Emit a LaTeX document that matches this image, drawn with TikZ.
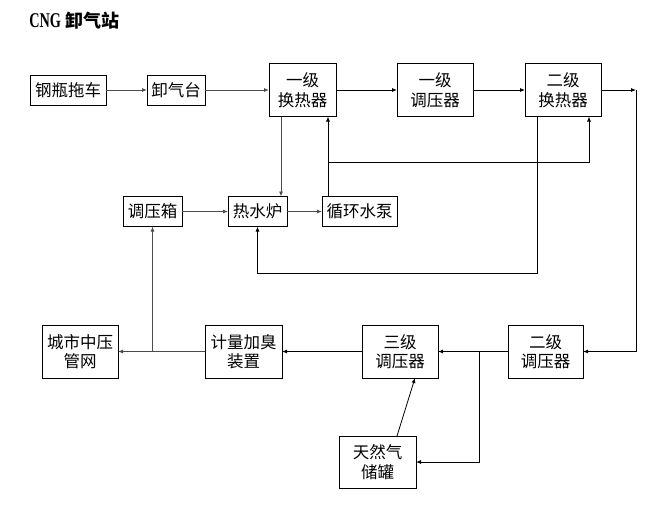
\documentclass[tikz,border=0pt]{standalone}
\usepackage{fontspec}
\setmainfont{Noto Sans CJK SC}
\newfontfamily\titlelat[BoldFont={Liberation Serif Bold}]{Liberation Serif}
\usetikzlibrary{positioning,arrows.meta}

\begin{document}
\begin{tikzpicture}[x=1pt,y=-1pt,node distance=40pt,outer sep=0pt,
  boxA/.style={
    draw=black,
    line width=0.8pt,
    inner sep=1pt,
    align=center,
    font={\fontsize{16.5}{19.5}\selectfont},
    minimum width=76pt,
    minimum height=53pt,
%    text height=12pt,
    },
  boxB/.style={boxA,minimum height=30pt},
  pipe/.style={draw=black,line width=0.8pt,-{Latex[length=5pt,width=4pt]}},
  pipeG/.style={pipe,draw=black!70},
  ]
  \useasboundingbox (0,0) rectangle (672,515);

  \node[anchor=west, font={\bfseries\fontsize{18}{20}\selectfont}] (title) at (26,21) {{\titlelat\bfseries\fontsize{21}{22}\selectfont\scalebox{0.68}[1]{CNG}} 卸气站};

  % top row
  \node[boxB] (tuoche) at (68,90) {钢瓶拖车};
  \node[boxB, right=41pt of tuoche, minimum width=58pt] (xieqitai) {卸气台};
  \node[boxA, right=64pt of xieqitai, minimum width=67pt] (huanreA) {一级\\换热器};
  \node[boxA, right=61pt of huanreA] (tiaoyaA) {一级\\调压器};
  \node[boxA, right=52pt of tiaoyaA] (huanreB) {二级\\换热器};

  % heating loop
  \node[boxB, minimum width=59pt] (tiaoyaxiang) at (152.5,211.5) {调压箱};
  \node[boxB, right=46pt of tiaoyaxiang, minimum width=59pt] (reshuilu) {热水炉};
  \node[boxB, right=35pt of reshuilu, minimum width=75pt] (beng) {循环水泵};

  % bottom row
  \node[boxA] (guanwang) at (80,351.5) {城市中压\\管网};
  \node[boxA, right=87pt of guanwang, minimum width=77pt] (jiliang) {计量加臭\\装置};
  \node[boxA, right=80pt of jiliang] (tiaoyaC) {三级\\调压器};
  \node[boxA, right=70pt of tiaoyaC, minimum width=75pt] (tiaoyaB) {二级\\调压器};
  \node[boxA, minimum width=77pt, minimum height=52pt] (chuguan) at (377.5,462) {天然气\\储罐};

  \coordinate (turn) at (636,90);
  \coordinate (tee) at (328,162);
  \coordinate (loop) at (537.5,273);
  \coordinate (fork) at (479,351.5);

  \draw[pipeG] (tuoche) -- (xieqitai);
  \draw[pipeG] (xieqitai) -- (huanreA);
  \draw[pipe] (huanreA) -- (tiaoyaA);
  \draw[pipe] (tiaoyaA) -- (huanreB);
  \draw[pipe] (huanreB) -- (turn);
  \draw[pipe] (turn) |- (tiaoyaB);

  \draw[pipeG] ([xshift=-21.5pt]huanreA.south) -- ([xshift=-21.5pt]huanreA.south |- reshuilu.north);
  \draw[pipeG] (tiaoyaxiang) -- (reshuilu);
  \draw[pipeG] (reshuilu) -- (beng);
  \draw[pipe] ([xshift=-31.5pt]beng.north) -- ([xshift=-31.5pt]beng.north |- huanreA.south);
  \draw[pipe] (tee) -| ([xshift=26pt]huanreB.south);
  \draw[pipe] ([xshift=-25.5pt]huanreB.south) -- (loop) -| (reshuilu.south);

  \draw[pipe] (tiaoyaB) -- (tiaoyaC);
  \draw[pipe] (tiaoyaC) -- (jiliang);
  \draw[pipeG] (jiliang) -- (guanwang);
  \draw[pipeG] (tiaoyaxiang.south |- guanwang.east) -- (tiaoyaxiang.south);
  \draw[pipe] (fork) |- (chuguan.east);
  \draw[pipe] ([xshift=19.5pt]chuguan.north) -- ([xshift=15pt]tiaoyaC.south);

\end{tikzpicture}
\end{document}
